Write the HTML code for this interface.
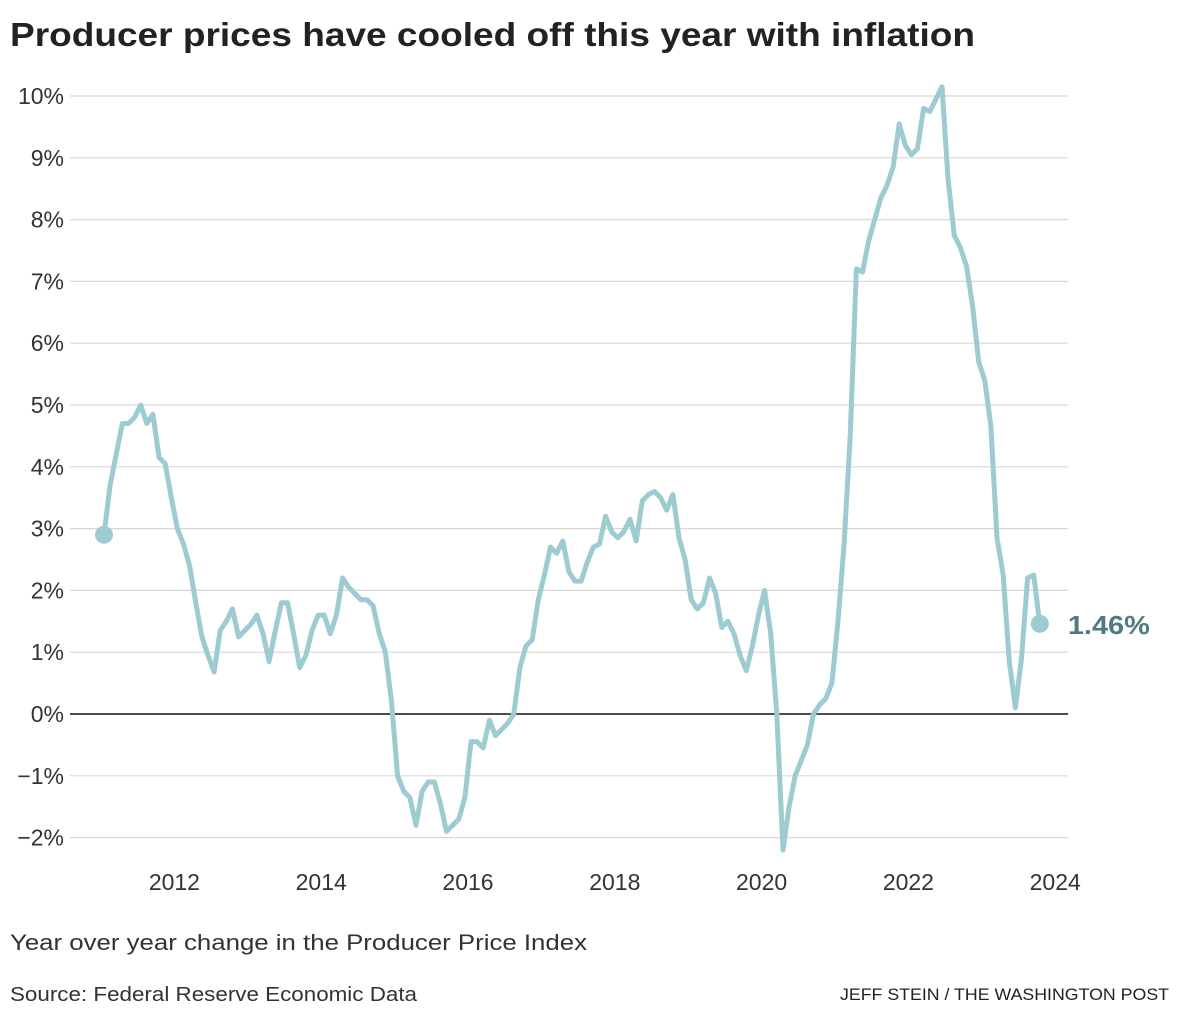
<!DOCTYPE html>
<html><head><meta charset="utf-8"><style>
body{margin:0;background:#fff;width:1180px;height:1020px;overflow:hidden;font-family:"Liberation Sans",sans-serif;}
</style></head><body>
<svg width="1180" height="1020">
<text x="10" y="46" font-size="33" font-weight="bold" fill="#222" textLength="965" lengthAdjust="spacingAndGlyphs">Producer prices have cooled off this year with inflation</text>
<g id="grid"></g><g id="yt"></g><g id="xt"></g><g id="series"></g>
<text x="10" y="950" font-size="22" fill="#333" textLength="577" lengthAdjust="spacingAndGlyphs">Year over year change in the Producer Price Index</text>
<text x="10" y="1001" font-size="20" fill="#333" textLength="407" lengthAdjust="spacingAndGlyphs">Source: Federal Reserve Economic Data</text>
<text x="1169" y="1000" font-size="17" fill="#222" text-anchor="end" textLength="329" lengthAdjust="spacingAndGlyphs">JEFF STEIN / THE WASHINGTON POST</text>
</svg>
<script>
const yTicks=[-2,-1,0,1,2,3,4,5,6,7,8,9,10];
const yTickLabels=["−2%","−1%","0%","1%","2%","3%","4%","5%","6%","7%","8%","9%","10%"];
const xTicks=[2012,2014,2016,2018,2020,2022,2024];
const startYear=2011;
const values=[
2.9,3.7,4.2,4.7,4.7,4.8,5.0,4.7,4.85,4.15,4.05,3.5,
3.0,2.75,2.4,1.8,1.25,0.95,0.68,1.35,1.5,1.7,1.25,1.35,
1.45,1.6,1.3,0.85,1.35,1.8,1.8,1.3,0.75,0.95,1.35,1.6,
1.6,1.3,1.6,2.2,2.05,1.95,1.85,1.85,1.75,1.3,1.0,0.2,
-1.0,-1.25,-1.35,-1.8,-1.25,-1.1,-1.1,-1.45,-1.9,-1.8,-1.7,-1.35,
-0.45,-0.45,-0.55,-0.1,-0.35,-0.25,-0.15,0.0,0.75,1.1,1.2,1.85,
2.25,2.7,2.6,2.8,2.3,2.15,2.15,2.45,2.7,2.75,3.2,2.95,
2.85,2.95,3.15,2.8,3.45,3.55,3.6,3.5,3.3,3.55,2.85,2.5,
1.85,1.7,1.8,2.2,1.95,1.4,1.5,1.3,0.95,0.7,1.1,1.6,
2.0,1.3,0.0,-2.2,-1.5,-1.0,-0.75,-0.5,0.0,0.15,0.25,0.5,
1.5,2.75,4.5,7.2,7.15,7.65,8.0,8.35,8.55,8.85,9.55,9.2,
9.05,9.15,9.8,9.75,9.95,10.15,8.65,7.75,7.55,7.25,6.6,5.7,
5.4,4.65,2.85,2.25,0.85,0.1,0.9,2.2,2.25,1.46];
const lastLabel="1.46%";
const NS="http://www.w3.org/2000/svg";
const x=t=>104+(t-2011)*73.4;
const y=v=>714-v*61.8;
function mk(tag,attrs,parent){const e=document.createElementNS(NS,tag);for(const k in attrs)e.setAttribute(k,attrs[k]);document.getElementById(parent).appendChild(e);return e;}
yTicks.forEach((v,i)=>{
 const l=mk('line',{x1:70,x2:1068,y1:y(v),y2:y(v),stroke:v===0?'#111':'#d8d8d8','stroke-width':v===0?1.5:1.2},'grid');
 
 
 const t=mk('text',{x:64,y:y(v)+8,'font-size':23,fill:'#333','text-anchor':'end'},'yt');
 t.textContent=yTickLabels[i];
 
 
});
xTicks.forEach(yr=>{
 const t=mk('text',{x:x(yr)-3,y:890,'font-size':23,fill:'#333','text-anchor':'middle'},'xt');
 t.textContent=yr;
 
 
});
const pts=values.map((v,i)=>[x(startYear+i/12),y(v)]);
const p=mk('path',{d:'M'+pts.map(q=>q[0].toFixed(1)+','+q[1].toFixed(1)).join('L'),fill:'none',stroke:'#9ccbd1','stroke-width':5,'stroke-linejoin':'round'},'series');


const c1=mk('circle',{cx:pts[0][0],cy:pts[0][1],r:9,fill:'#9ccbd1'},'series');


const last=pts[pts.length-1];
const c2=mk('circle',{cx:last[0],cy:last[1],r:9,fill:'#9ccbd1'},'series');


const lt=mk('text',{x:last[0]+28,y:last[1]+10,'font-size':26,'font-weight':'bold',fill:'#4e7b82',textLength:82,lengthAdjust:'spacingAndGlyphs'},'series');
lt.textContent=lastLabel;


</script>
</body></html>
